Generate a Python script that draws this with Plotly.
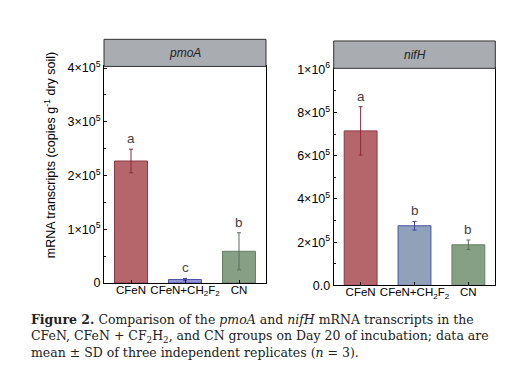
import plotly.graph_objects as go

categories = ["CFeN", "CFeN+CH<sub>2</sub>F<sub>2</sub>", "CN"]
pmoA_mean = [2.27e5, 6.5e3, 5.9e4]
pmoA_sd = [2.2e4, 2.0e3, 3.45e4]
pmoA_letters = ["a", "c", "b"]
nifH_mean = [7.15e5, 2.76e5, 1.88e5]
nifH_sd = [1.12e5, 2.0e4, 2.2e4]
nifH_letters = ["a", "b", "b"]

pmoA_ticks = [0, 1e5, 2e5, 3e5, 4e5]
pmoA_ticktext = ["0", "1×10<sup>5</sup>", "2×10<sup>5</sup>", "3×10<sup>5</sup>", "4×10<sup>5</sup>"]
nifH_ticks = [0, 2e5, 4e5, 6e5, 8e5, 1e6]
nifH_ticktext = ["0.0", "2×10<sup>5</sup>", "4×10<sup>5</sup>", "6×10<sup>5</sup>", "8×10<sup>5</sup>", "1×10<sup>6</sup>"]

fill_left = ["#b5666b", "#9195d2", "#86a086"]
fill_right = ["#b5666b", "#8fa2b9", "#86a086"]
edge = ["#8e3844", "#4d52a8", "#667f65"]
errc = ["#8b2a3a", "#3d42a0", "#5a6b5a"]

W, H = 512, 379
FONT = "Liberation Sans, Arial, sans-serif"

def px_x(p):
    return p / W

def px_y(p):
    return 1 - p / H

fig = go.Figure()

panels = [
    dict(xa="x", ya="y", mean=pmoA_mean, sd=pmoA_sd, letters=pmoA_letters, fills=fill_left),
    dict(xa="x2", ya="y2", mean=nifH_mean, sd=nifH_sd, letters=nifH_letters, fills=fill_right),
]

for p in panels:
    for i, c in enumerate(categories):
        fig.add_trace(go.Bar(
            x=[c], y=[p["mean"][i]], xaxis=p["xa"], yaxis=p["ya"],
            width=0.61,
            marker=dict(color=p["fills"][i], line=dict(color=edge[i], width=1)),
            error_y=dict(type="data", array=[p["sd"][i]], visible=True,
                         color=errc[i], thickness=1, width=2),
            showlegend=False,
        ))
        fig.add_annotation(
            x=c, y=p["mean"][i] + p["sd"][i], xref=p["xa"], yref=p["ya"],
            text=p["letters"][i], showarrow=False, yanchor="bottom", yshift=1,
            font=dict(family=FONT, size=13.5, color="#444444"),
        )

axis_common = dict(
    showline=True, linecolor="black", linewidth=1, mirror=True,
    ticks="inside", ticklen=3, tickcolor="black",
    showgrid=False, zeroline=False,
)
yfont = dict(family=FONT, size=12.5, color="black")
xfont = dict(family=FONT, size=11.5, color="black")

# panel geometry (pixels)
L = dict(x0=96, x1=258, top=52.5, bot=278, strip=24.3)
R = dict(x0=325.7, x1=487.3, top=54.5, bot=280.5, strip=26)

fig.update_layout(
    width=W, height=H, margin=dict(l=0, r=0, t=0, b=0),
    paper_bgcolor="white", plot_bgcolor="white",
    bargap=0.39,
    xaxis=dict(domain=[px_x(L["x0"]), px_x(L["x1"])], anchor="y",
               range=[-0.5, 2.5], tickangle=0, tickfont=xfont, ticklabelstandoff=-4,
               **axis_common),
    yaxis=dict(domain=[px_y(L["bot"]), px_y(L["top"])], anchor="x",
               range=[0, 4.03e5], tickvals=pmoA_ticks, ticktext=pmoA_ticktext,
               tickfont=yfont,
               minor=dict(ticks="inside", ticklen=2, dtick=5e4, tickcolor="black"),
               **axis_common),
    xaxis2=dict(domain=[px_x(R["x0"]), px_x(R["x1"])], anchor="y2",
                range=[-0.5, 2.5], tickangle=0, tickfont=xfont, ticklabelstandoff=-4,
                **axis_common),
    yaxis2=dict(domain=[px_y(R["bot"]), px_y(R["top"])], anchor="x2",
                range=[0, 1.0044e6], tickvals=nifH_ticks, ticktext=nifH_ticktext,
                tickfont=yfont,
                minor=dict(ticks="inside", ticklen=2, dtick=1e5, tickcolor="black"),
                **axis_common),
)

# strips
for g, name in [(L, "<i>pmoA</i>"), (R, "<i>nifH</i>")]:
    fig.add_shape(type="rect", xref="paper", yref="paper",
                  x0=px_x(g["x0"]), x1=px_x(g["x1"]),
                  y0=px_y(g["top"]), y1=px_y(g["strip"]),
                  fillcolor="#a9acb1", line=dict(color="#333333", width=1))
    fig.add_annotation(xref="paper", yref="paper",
                       x=px_x((g["x0"] + g["x1"]) / 2), y=px_y((g["top"] + g["strip"]) / 2),
                       text=name, showarrow=False, xanchor="center", yanchor="middle",
                       font=dict(family=FONT, size=12, color="#222222"))

# y axis title
fig.add_annotation(xref="paper", yref="paper", x=px_x(42), y=px_y(145),
                   text="mRNA transcripts (copies g<sup>-1</sup> dry soil)",
                   textangle=-90, showarrow=False, xanchor="center", yanchor="middle",
                   font=dict(family=FONT, size=12.5, color="black"))

# caption
CAP = "DejaVu Serif"
caption_lines = [
    "<b>Figure 2.</b> Comparison of the <i>pmoA</i> and <i>nifH</i> mRNA transcripts in the",
    "CFeN, CFeN + CF<sub>2</sub>H<sub>2</sub>, and CN groups on Day 20 of incubation; data are",
    "mean ± SD of three independent replicates (<i>n</i> = 3).",
]
fig.add_annotation(xref="paper", yref="paper", x=px_x(21), y=px_y(333),
                   text="<br>".join(caption_lines), showarrow=False,
                   xanchor="left", yanchor="middle", align="left",
                   font=dict(family=CAP, size=12.5, color="#222222"))

fig.write_html("out.html")
